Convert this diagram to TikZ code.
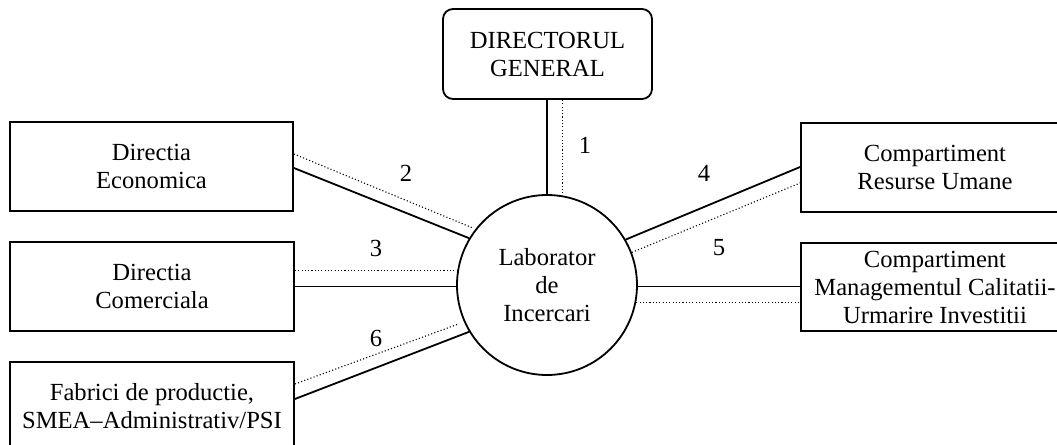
\documentclass[tikz,border=0pt]{standalone}
\usepackage{fontspec}
\setmainfont{Liberation Serif}
\begin{document}
\begin{tikzpicture}[x=0.5pt,y=-0.5pt,
  txt/.style={font=\fontsize{12.3}{14}\selectfont, align=center, inner sep=0pt},
  unitbox/.style={txt, draw, line width=0.9pt, rectangle},
  hub/.style={txt, draw, line width=0.9pt, circle, minimum size=90pt},
  solidlink/.style={line width=0.9pt},
  dottedlink/.style={line width=0.55pt, dash pattern=on 0.55pt off 1.1pt},
  linkno/.style={txt}
]
\clip (0,0) rectangle (1057,445);

% units
\node[unitbox, rounded corners=5pt, minimum width=104.5pt, minimum height=45pt]
  (dg) at (547.5,54) {DIRECTORUL\\GENERAL};
\node[unitbox, minimum width=141.5pt, minimum height=44.5pt]
  (econ) at (151.5,166.5) {Directia\\Economica};
\node[unitbox, minimum width=142pt, minimum height=44.5pt]
  (comer) at (152,286.5) {Directia\\Comerciala};
\node[unitbox, minimum width=142pt, minimum height=44.5pt]
  (fab) at (152,406.5) {Fabrici de productie,\\SMEA--Administrativ/PSI};
\node[unitbox, minimum width=134pt, minimum height=44.5pt]
  (hr) at (935,167.5) {Compartiment\\Resurse Umane};
\node[unitbox, minimum width=134pt, minimum height=44pt]
  (mq) at (935,287) {Compartiment\\Managementul Calitatii-\\Urmarire Investitii};

% central laboratory
\node[hub] (lab) at (547,285) {Laborator\\de\\Incercari};

% link 1
\draw[solidlink] (lab.north) -- (lab.north |- dg.south);
\draw[dottedlink, shorten <=1pt] (lab.80.6) -- (lab.80.6 |- dg.south);
% link 2
\draw[dottedlink, shorten >=2pt] ([yshift=6.25pt]econ.east) -- (lab.142);
\draw[solidlink] ([yshift=-0.75pt]econ.east) -- (lab.149);
% link 3
\draw[dottedlink] (comer.east |- lab.171) -- (lab.171);
\draw[solidlink] (comer.east |- lab.181) -- (lab.181);
% link 4
\draw[solidlink] (lab.30) -- ([yshift=0.25pt]hr.west);
\draw[dottedlink] (lab.21.4) -- ([yshift=-7.75pt]hr.west);
% link 5
\draw[solidlink] (lab.-1.3) -- (mq.west |- lab.-1.3);
\draw[dottedlink] (lab.349) -- (mq.west |- lab.349);
% link 6
\draw[dottedlink, shorten >=3pt] ([yshift=11.25pt]fab.east) -- (lab.204.4);
\draw[solidlink] ([yshift=3.75pt]fab.east) -- (lab.211.7);

% link numbers
\node[linkno] (n1) at (585,145) {1};
\node[linkno] (n2) at (406,173) {2};
\node[linkno] (n3) at (376,248) {3};
\node[linkno] (n4) at (704,173) {4};
\node[linkno] (n5) at (719,248) {5};
\node[linkno] (n6) at (376,338) {6};
\end{tikzpicture}
\end{document}
